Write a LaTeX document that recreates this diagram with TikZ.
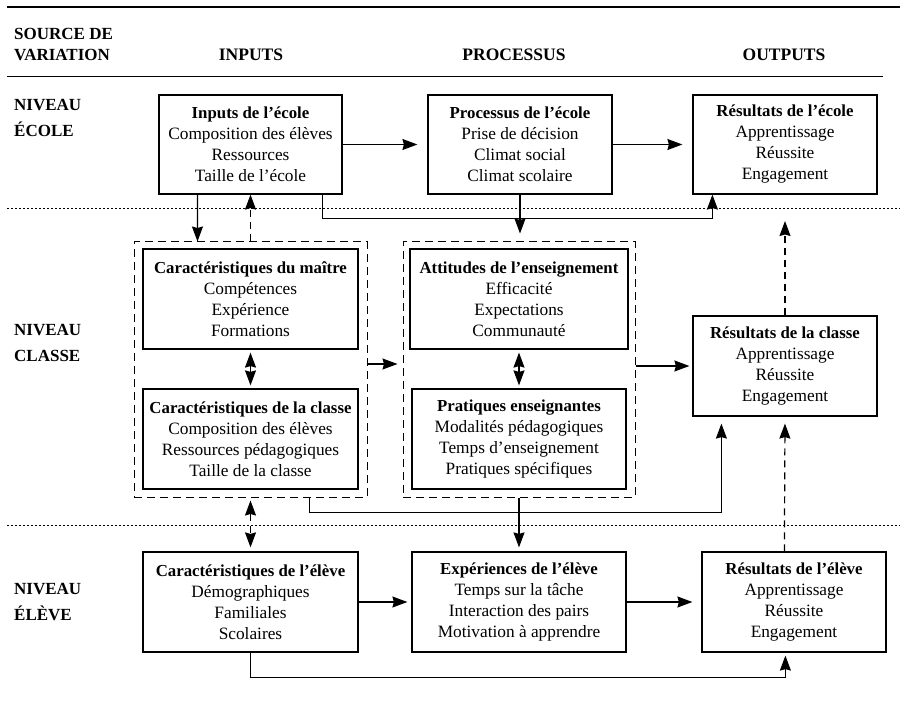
\documentclass[tikz,border=0pt]{standalone}
\usepackage{fontspec}
\setmainfont{Liberation Serif}
\usetikzlibrary{arrows.meta,calc}
\newcommand\boxhead[1]{{\fontsize{16.8}{21}\selectfont\bfseries #1}}
\begin{document}
\begin{tikzpicture}[x=1pt,y=-1pt,
  box/.style={draw, line width=1.2pt, align=center, inner sep=0pt, font=\fontsize{17.3}{21}\selectfont},
  grp/.style={draw, line width=1pt, dash pattern=on 8pt off 5pt, inner sep=0pt},
  tip/.tip={Stealth[length=15pt,width=11pt,inset=1.5pt]},
  arr/.style={line width=1.2pt, -tip},
  dbl/.style={line width=1.2pt, tip-tip},
  dsh/.style={dash pattern=on 7pt off 5pt},
  lvl/.style={anchor=west, align=left, inner sep=0pt, font=\fontsize{17}{26}\selectfont\bfseries},
  src/.style={anchor=west, align=left, inner sep=0pt, font=\fontsize{17}{20.5}\selectfont\bfseries},
  hdr/.style={inner sep=0pt, font=\fontsize{17.5}{20.5}\selectfont\bfseries},
  rule/.style={line width=#1},
  dots/.style={line width=1pt, dash pattern=on 2pt off 2pt}]
\useasboundingbox (0,0) rectangle (900,708);

% rules
\draw[rule=2pt] (7,7) -- (900,7);
\draw[rule=1pt] (7,77) -- (883,77);
\draw[dots] (7,209) -- (900,209);
\draw[dots] (7,525) -- (900,525);

% headers
\node[src] (hsrc) at (14,44.5) {SOURCE DE\\VARIATION};
\node[hdr] (hin) at (251,55) {INPUTS};
\node[hdr] (hpr) at (514,55) {PROCESSUS};
\node[hdr] (hout) at (784,55) {OUTPUTS};
\node[lvl] (lecole) at (14,118) {NIVEAU\\ÉCOLE};
\node[lvl] (lclasse) at (14,343) {NIVEAU\\CLASSE};
\node[lvl] (leleve) at (14,602.5) {NIVEAU\\ÉLÈVE};

% group containers
\node[grp, minimum width=233pt, minimum height=255pt] (cl) at (250.5,369.5) {};
\node[grp, minimum width=232pt, minimum height=255pt] (cr) at (519,369.5) {};

% school level
\node[box, minimum width=183pt, minimum height=99pt] (ie) at (250.5,144.5)
  {\boxhead{Inputs de l’école}\\Composition des élèves\\Ressources\\Taille de l’école};
\node[box, minimum width=184pt, minimum height=99pt] (pe) at (520,144.5)
  {\boxhead{Processus de l’école}\\Prise de décision\\Climat social\\Climat scolaire};
\node[box, minimum width=184pt, minimum height=99pt] (re) at (785,144.5)
  {\boxhead{Résultats de l’école}\\Apprentissage\\Réussite\\Engagement};

% class level
\node[box, minimum width=215pt, minimum height=100pt] (cm) at (250.5,299)
  {\boxhead{Caractéristiques du maître}\\Compétences\\Expérience\\Formations};
\node[box, minimum width=215pt, minimum height=100pt] (cc) at (250.5,439)
  {\boxhead{Caractéristiques de la classe}\\Composition des élèves\\Ressources pédagogiques\\Taille de la classe};
\node[box, minimum width=218pt, minimum height=100pt] (ae) at (519,299)
  {\boxhead{Attitudes de l’enseignement}\\Efficacité\\Expectations\\Communauté};
\node[box, minimum width=214pt, minimum height=100pt] (pr) at (519,439)
  {\boxhead{Pratiques enseignantes}\\Modalités pédagogiques\\Temps d’enseignement\\Pratiques spécifiques};
\node[box, minimum width=184pt, minimum height=100pt] (rc) at (785,366)
  {\boxhead{Résultats de la classe}\\Apprentissage\\Réussite\\Engagement};

% pupil level
\node[box, minimum width=215pt, minimum height=100pt] (ce) at (250.5,602)
  {\boxhead{Caractéristiques de l’élève}\\Démographiques\\Familiales\\Scolaires};
\node[box, minimum width=214pt, minimum height=100pt] (ee) at (519,602)
  {\boxhead{Expériences de l’élève}\\Temps sur la tâche\\Interaction des pairs\\Motivation à apprendre};
\node[box, minimum width=184pt, minimum height=100pt] (rel) at (794,602)
  {\boxhead{Résultats de l’élève}\\Apprentissage\\Réussite\\Engagement};

\coordinate (rcup) at (785,221);

% connectors - school level
\draw[arr, shorten >=10pt] (ie.east) -- (pe.west);
\draw[arr, shorten >=10pt] (pe.east) -- (re.west);
\draw[arr] ([xshift=39pt]ie.south west) -- ([xshift=64pt]cl.north west);
\draw[arr, dsh] (cl.north) -- (ie.south);
\draw[arr] ([xshift=164pt]ie.south west) -- ++(0,24) -| ([xshift=20pt]re.south west);
\draw[arr, shorten >=8pt] (pe.south) -- (pe.south |- cr.north);

% class level
\draw[dbl, shorten <=3pt, shorten >=3pt] (cm.south) -- (cc.north);
\draw[dbl, shorten <=3pt, shorten >=3pt] (ae.south) -- (pr.north);
\draw[arr, shorten >=5pt] ([yshift=5.5pt]cl.east) -- ([yshift=5.5pt]cr.west);
\draw[arr, shorten >=3pt] (cr.east |- rc.west) -- (rc.west);
\draw[arr, dsh] (rc.north) -- (rcup);
\draw[arr, shorten >=7pt] ([xshift=176pt]cl.south west) -- ++(0,15) -| ([xshift=29pt]rc.south west);
\draw[arr, dsh, shorten >=7pt] ([xshift=83pt]rel.north west) -- (rc.south);

% pupil level
\draw[dbl, dsh, shorten <=3pt, shorten >=4pt] (cl.south) -- (ce.north);
\draw[arr, shorten >=4pt] (cr.south) -- (ee.north);
\draw[arr, shorten >=4pt] (ce.east) -- (ee.west);
\draw[arr, shorten >=9pt] (ee.east) -- (rel.west);
\draw[arr, shorten >=3pt] (ce.south) -- ++(0,25) -| ([xshift=84pt]rel.south west);
\end{tikzpicture}
\end{document}
